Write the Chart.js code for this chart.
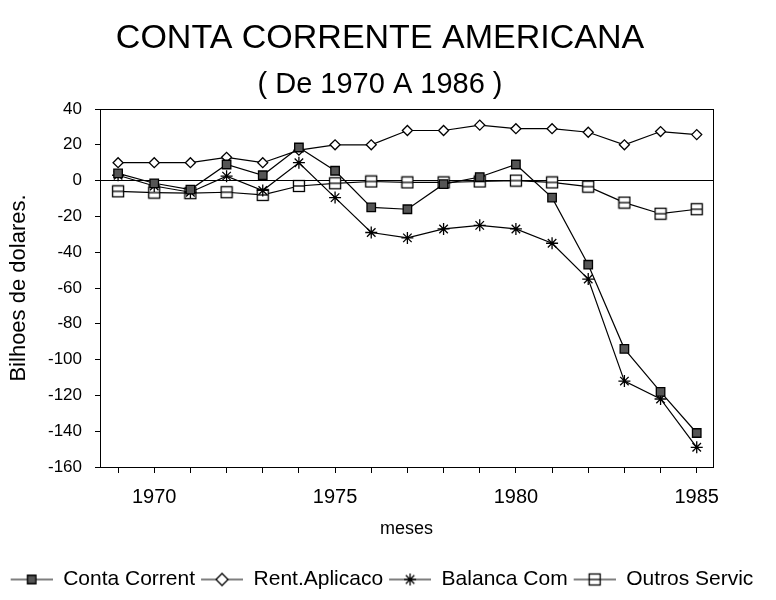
<!DOCTYPE html>
<html>
<head>
<meta charset="utf-8">
<script src="https://cdn.jsdelivr.net/npm/chart.js@4.4.0/dist/chart.umd.min.js"></script>
<style>
html,body{margin:0;padding:0;background:#fff;}
#wrap{width:776px;height:600px;position:relative;}
</style>
</head>
<body>
<div id="wrap"><canvas id="c" width="776" height="600"></canvas></div>
<script>
// ---- data ----
const years = [1969,1970,1971,1972,1973,1974,1975,1976,1977,1978,1979,1980,1981,1982,1983,1984,1985];
const xTickLabels = [1970, 1975, 1980, 1985];
const contaCorrente = [4, -1.5, -5, 9, 3, 18.5, 5.5, -15, -16, -2, 2, 9, -9.5, -47, -94, -118, -141];
const rentAplicacao = [10, 10, 10, 13, 10, 17, 20, 20, 28, 28, 31, 29, 29, 27, 20, 27.4, 25.7];
const balancaCom    = [3, -3, -6.5, 2.5, -5.5, 10, -9.5, -29, -32, -27, -25, -27, -35, -55, -112, -122, -149];
const outrosServ    = [-6, -6.7, -7, -6.5, -8, -3, -1.5, -0.5, -1, -1, -0.5, 0, -1, -3.4, -12.3, -18.5, -16];
const seriesNames = ['Conta Corrent', 'Rent.Aplicaco', 'Balanca Com', 'Outros Servic'];
const yMin = -160, yMax = 40, yStep = 20;

const SANS = "'Liberation Sans', Arial, sans-serif";

function outrosMarker(){
  const c = document.createElement('canvas'); c.width = 14; c.height = 14;
  const g = c.getContext('2d');
  g.fillStyle = '#fff'; g.fillRect(1.5,1.5,11,11);
  g.strokeStyle = '#000'; g.lineWidth = 1.3; g.strokeRect(1.5,1.5,11,11);
  g.beginPath(); g.moveTo(1.5,7); g.lineTo(12.5,7); g.stroke();
  return c;
}
const outrosStyle = outrosMarker();

function legendIcon(style, fill){
  const c = document.createElement('canvas'); c.width = 46; c.height = 16;
  const g = c.getContext('2d');
  g.strokeStyle = '#000'; g.lineWidth = 1.2;
  g.beginPath(); g.moveTo(4,8); g.lineTo(46,8); g.stroke();
  if (style instanceof HTMLCanvasElement) {
    g.drawImage(style, 25 - style.width/2, 8 - style.height/2);
  } else {
    g.fillStyle = fill; g.strokeStyle = '#000'; g.lineWidth = 1.3;
    Chart.helpers.drawPoint(g, {pointStyle: style, radius: 6, borderWidth: 1.3, rotation: 0}, 25, 8);
  }
  return c;
}

const toXY = arr => years.map((y,i) => ({x: y, y: arr[i]}));

const styles = [
  {style: 'rect', fill: '#555', radius: 6},
  {style: 'rectRot', fill: '#fff', radius: 5},
  {style: 'star', fill: '#fff', radius: 6},
  {style: outrosStyle, fill: '#fff', radius: 6}
];
const seriesData = [contaCorrente, rentAplicacao, balancaCom, outrosServ];

const datasets = seriesData.map((arr, i) => ({
  label: seriesNames[i],
  data: toXY(arr),
  borderColor: '#000',
  borderWidth: 1.2,
  backgroundColor: styles[i].fill,
  pointStyle: styles[i].style,
  pointRadius: styles[i].radius,
  pointBorderColor: '#000',
  pointBackgroundColor: styles[i].fill,
  pointBorderWidth: 1.3,
  tension: 0,
  fill: false,
  yAxisID: 'y'
}));

const legendIcons = styles.map(s => legendIcon(s.style, s.fill));

const boxBorder = {
  id: 'boxBorder',
  afterDatasetsDraw(chart){
    const {ctx, chartArea: a} = chart;
    ctx.save();
    ctx.strokeStyle = '#000'; ctx.lineWidth = 1;
    ctx.strokeRect(Math.round(a.left)+0.5, Math.round(a.top)+0.5, Math.round(a.right-a.left), Math.round(a.bottom-a.top));
    ctx.restore();
  }
};

new Chart(document.getElementById('c'), {
  type: 'line',
  data: { datasets },
  plugins: [boxBorder],
  options: {
    responsive: false,
    animation: false,
    layout: { padding: { left: 0, right: 16, top: 0, bottom: 0 } },
    plugins: {
      title: {
        display: true,
        text: 'CONTA CORRENTE AMERICANA',
        color: '#000',
        font: { family: SANS, size: 34, weight: 'normal' },
        padding: { top: 18.6, bottom: 0 }
      },
      subtitle: {
        display: true,
        text: '( De 1970 A 1986 )',
        color: '#000',
        font: { family: SANS, size: 29, weight: 'normal' },
        padding: { top: 8.2, bottom: 6.6 }
      },
      legend: {
        position: 'bottom',
        labels: {
          usePointStyle: true,
          pointStyleWidth: 46,
          padding: 2,
          color: '#000',
          font: { family: SANS, size: 21 },
          generateLabels(chart){
            return chart.data.datasets.map((d, i) => ({
              text: d.label,
              pointStyle: legendIcons[i],
              fillStyle: '#fff',
              strokeStyle: '#000',
              lineWidth: 0,
              hidden: false,
              datasetIndex: i,
              fontColor: '#000'
            }));
          }
        }
      },
      tooltip: { enabled: false }
    },
    scales: {
      x: {
        type: 'linear',
        min: 1968.5,
        max: 1985.45,
        afterBuildTicks(scale){ scale.ticks = years.map(v => ({value: v})); },
        afterFit(scale){ scale.height = 100; },
        ticks: {
          autoSkip: false, maxRotation: 0, padding: 12, color: '#000',
          font: { family: SANS, size: 20 },
          callback: v => xTickLabels.includes(v) ? String(v) : ''
        },
        grid: { drawOnChartArea: false, drawTicks: true, tickLength: 6, tickColor: '#000' },
        border: { color: '#000', width: 1 },
        title: {
          display: true, text: 'meses', color: '#000',
          font: { family: SANS, size: 18 },
          padding: { top: 4, bottom: 27 }
        }
      },
      y: {
        type: 'linear',
        position: 'left',
        min: yMin, max: yMax,
        afterFit(scale){ scale.width = 100; },
        ticks: {
          stepSize: yStep, padding: 13, color: '#000',
          font: { family: SANS, size: 17 }
        },
        grid: {
          drawOnChartArea: true, drawTicks: true, tickLength: 5, tickColor: '#000',
          color: ctx => (ctx.tick && ctx.tick.value === 0) ? '#000' : 'rgba(0,0,0,0)',
          lineWidth: 1
        },
        border: { color: '#000', width: 1 },
        title: {
          display: true, text: 'Bilhoes de dolares.', color: '#000',
          font: { family: SANS, size: 22 },
          padding: { top: 6, bottom: 0 }
        }
      },
      yRight: {
        type: 'linear',
        position: 'right',
        min: yMin, max: yMax,
        afterFit(scale){ scale.width = 47; },
        ticks: { display: false },
        grid: { display: false, drawTicks: false },
        border: { display: false }
      }
    }
  }
});
</script>
</body>
</html>
